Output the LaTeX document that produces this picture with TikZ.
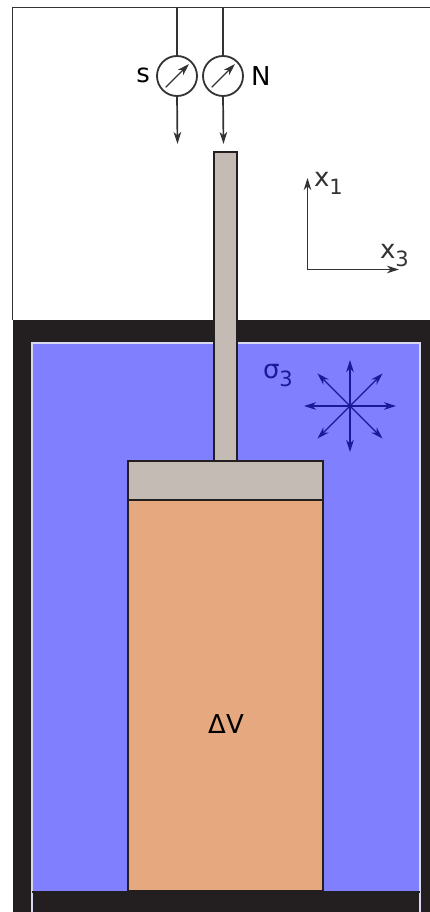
\documentclass[tikz,border=0pt]{standalone}
\usepackage{fontspec}
\setmainfont{DejaVu Sans}
\usepackage{xcolor}
\usetikzlibrary{arrows.meta,positioning}
\definecolor{wallc}{HTML}{231F20}
\definecolor{fluidc}{HTML}{8080FF}
\definecolor{steelc}{HTML}{C4BCB4}
\definecolor{samplec}{HTML}{E6A97F}
\definecolor{inkc}{HTML}{333333}
\definecolor{starc}{HTML}{1A1A96}
\definecolor{edgec}{HTML}{D8D8F0}
\newcommand{\subidx}[1]{\raisebox{-8pt}{\fontsize{21}{21}\selectfont #1}}

\begin{document}
\begin{tikzpicture}[x=1pt,y=-1pt,>={Stealth[length=12pt,width=7.5pt,inset=3.5pt]},
    every node/.style={font=\fontsize{26}{26}\selectfont,inner sep=0pt,outer sep=0pt}]
  \tikzset{box/.style={draw=#1,anchor=north west,line width=1.2pt},
           part/.style={draw=wallc,fill=steelc,line width=1.4pt,inner sep=0pt},
           gauge/.style={circle,draw=inkc,fill=white,line width=1.8pt,minimum size=40pt},
           wire/.style={draw=inkc,line width=1.7pt},
           needle/.style={->,wire,line width=1.1pt,shorten <=4pt,shorten >=3pt},
           starline/.style={->,draw=starc,line width=1.4pt}}
  \useasboundingbox (0,0) rectangle (430,912);
  % cell wall
  \node[anchor=north west,fill=wallc,minimum width=418pt,minimum height=592pt] (wall) at (12.5,320) {};
  \node[box=edgec,fill=fluidc,minimum width=388pt,minimum height=549pt] (fluid) at (32,343) {};
  \node[box=edgec,fill=wallc,minimum width=388pt,minimum height=40pt] (floor) at (32,892) {};
  \draw[draw=wallc,line width=1.4pt] (floor.north west) -- (floor.north east);
  % specimen and loading piston
  \node[part,fill=samplec,minimum width=195pt,minimum height=391pt] (sample) at (225.5,695.5) {};
  \node[part,minimum width=195pt,minimum height=39pt,above=0pt of sample] (cap) {};
  \node[part,minimum width=23pt,minimum height=309pt,above=0pt of cap] (rod) {};
  \node at (226,724) (dv) {ΔV};
  % gauges
  \coordinate (corner) at (12.5,7.5);
  \coordinate (railend) at (430,7.5);
  \coordinate (frameend) at (12.5,320);
  \coordinate (railS) at (177,7.5);
  \coordinate (railN) at (223,7.5);
  \coordinate (tipS) at (177.5,144);
  \coordinate (tipN) at (223.5,144);
  \node[gauge] (gaugeS) at (177,76) {};
  \node[gauge] (gaugeN) at (223,76) {};
  \node[left=7pt of gaugeS,yshift=1pt] (labS) {s};
  \node[right=8pt of gaugeN] (labN) {N};
  \draw[wire] (frameend) -- (corner) -- (railend);
  \draw[wire] (railS) -- (gaugeS.north);
  \draw[wire] (railN) -- (gaugeN.north);
  \draw[wire,->] (gaugeS.south) -- (tipS);
  \draw[wire,->] (gaugeN.south) -- (tipN);
  \draw[needle] (gaugeS.225) -- (gaugeS.45);
  \draw[needle] (gaugeN.225) -- (gaugeN.45);
  % axes
  \coordinate (origin) at (307.5,269.5);
  \coordinate (axisA) at (307.5,178);
  \coordinate (axisB) at (399,269.5);
  \draw[wire,->] (origin) -- (axisA);
  \draw[wire,->] (origin) -- (axisB);
  \node[anchor=base west,text=inkc] (labA) at (314,186) {x\subidx{1}};
  \node[anchor=base west,text=inkc] (labB) at (380,258) {x\subidx{3}};
  % confining stress
  \coordinate (star) at (350,406);
  \foreach \a/\r in {0/46,45/46,90/46,135/46,180/46,225/46,270/46,315/46}
    \draw[starline] (star) -- ++(\a:\r);
  \node[anchor=base west,text=starc] (sig) at (263,378) {σ\subidx{3}};
\end{tikzpicture}
\end{document}
